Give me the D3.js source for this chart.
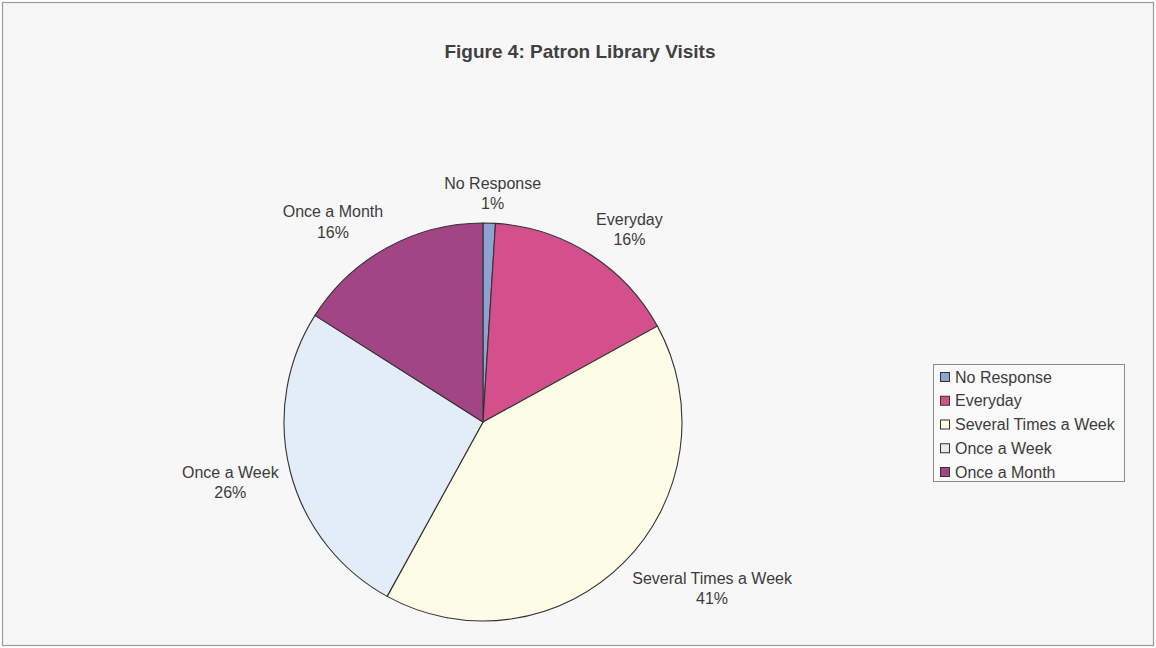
<!DOCTYPE html>
<html>
<head>
<meta charset="utf-8">
<script src="https://cdn.jsdelivr.net/npm/d3@7/dist/d3.min.js"></script>
<style>
  html, body { margin: 0; padding: 0; background: #ffffff; }
  svg { display: block; font-family: "Liberation Sans", Arial, sans-serif; }
</style>
</head>
<body>
<svg id="chart" width="1156" height="648"></svg>
<script>
// Survey responses: how often patrons visit the library (percent)
const categories = ["No Response", "Everyday", "Several Times a Week", "Once a Week", "Once a Month"];
const percents   = [1, 16, 41, 26, 16];
const colors     = ["#8ea2d4", "#d3508c", "#fdfce6", "#e3edf7", "#a24585"];
const titleText  = "Figure 4: Patron Library Visits";

const W = 1156, H = 648;
const cx = 483, cy = 422, R = 199;

const svg = d3.select("#chart");

// chart area background and frame
svg.append("rect")
  .attr("x", 2.5).attr("y", 2.5)
  .attr("width", W - 5).attr("height", H - 5)
  .attr("fill", "#f7f7f7")
  .attr("stroke", "#9a9a9a")
  .attr("stroke-width", 1.2);

// title
svg.append("text")
  .attr("x", 580).attr("y", 58)
  .attr("text-anchor", "middle")
  .attr("font-size", 19)
  .attr("font-weight", "bold")
  .attr("fill", "#404040")
  .text(titleText);

const data = categories.map((c, i) => ({ name: c, value: percents[i], color: colors[i] }));

const pie = d3.pie().value(d => d.value).sort(null);
const arcs = pie(data);
const arc = d3.arc().innerRadius(0).outerRadius(R);

const g = svg.append("g").attr("transform", `translate(${cx},${cy})`);

g.selectAll("path.slice")
  .data(arcs)
  .enter().append("path")
  .attr("class", "slice")
  .attr("d", arc)
  .attr("fill", d => d.data.color)
  .attr("stroke", "#333333")
  .attr("stroke-width", 1.1)
  .attr("stroke-linejoin", "round");

// outside-end data labels: name on the first line, percent on the second
const labelFont = 16, lineGap = 20.5, gapOut = 12;
const clamp = v => Math.max(-1, Math.min(1, v));

arcs.forEach(a => {
  const mid = (a.startAngle + a.endAngle) / 2;
  const s = Math.sin(mid), c = Math.cos(mid);
  const lg = g.append("g");
  const t1 = lg.append("text")
    .attr("text-anchor", "middle")
    .attr("dominant-baseline", "central")
    .attr("font-size", labelFont)
    .attr("fill", "#3c3c3c")
    .attr("y", -lineGap / 2)
    .text(a.data.name);
  lg.append("text")
    .attr("text-anchor", "middle")
    .attr("dominant-baseline", "central")
    .attr("font-size", labelFont)
    .attr("fill", "#3c3c3c")
    .attr("y", lineGap / 2)
    .text(a.data.value + "%");
  const w = t1.node().getComputedTextLength();
  const h = lineGap * 2;
  const px = s * (R + gapOut) + clamp(2 * s) * w / 2;
  const py = -c * (R + gapOut) - c * h / 2 + 3;
  lg.attr("transform", `translate(${px},${py})`);
});

// legend
const legX = 933, legY = 364, legW = 191, legH = 117;
const legend = svg.append("g");
legend.append("rect")
  .attr("x", legX + 0.5).attr("y", legY + 0.5)
  .attr("width", legW).attr("height", legH)
  .attr("fill", "#f9f9f9")
  .attr("stroke", "#8a8a8a")
  .attr("stroke-width", 1);

const rowY = d3.scalePoint().domain(categories).range([legY + 13, legY + 108]);

const rows = legend.selectAll("g.item")
  .data(data)
  .enter().append("g")
  .attr("class", "item")
  .attr("transform", d => `translate(0,${rowY(d.name)})`);

rows.append("rect")
  .attr("x", 940.5).attr("y", -4.5)
  .attr("width", 9).attr("height", 9)
  .attr("fill", d => d.color)
  .attr("stroke", "#333333")
  .attr("stroke-width", 1);

rows.append("text")
  .attr("x", 955)
  .attr("y", 0)
  .attr("dominant-baseline", "central")
  .attr("font-size", 16)
  .attr("fill", "#3c3c3c")
  .text(d => d.name);
</script>
</body>
</html>
